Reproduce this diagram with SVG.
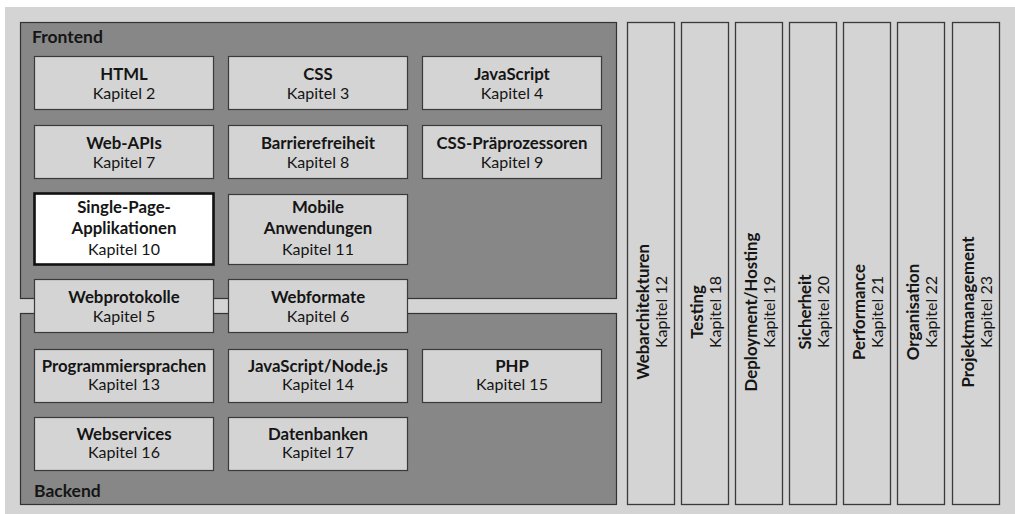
<svg xmlns="http://www.w3.org/2000/svg" width="1015" height="514" viewBox="0 0 1015 514">
  <style>
    .bg { fill: #d4d4d4; }
    .panel { fill: #878787; stroke: #333333; stroke-width: 1.2; }
    .box { fill: #d4d4d4; stroke: #3a3a3a; stroke-width: 1.2; }
    .hl { fill: #ffffff; stroke: #111111; stroke-width: 2.6; }
    .col { fill: #d4d4d4; stroke: #3a3a3a; stroke-width: 1.3; }
    text { font-family: Lato, "Open Sans", "Liberation Sans", sans-serif; font-size: 16px; fill: #151515; }
    .t { font-weight: bold; font-size: 16.8px; text-anchor: middle; }
    .k { text-anchor: middle; }
    .lbl { font-weight: bold; font-size: 17.5px; }
  </style>

  <!-- background -->
  <rect class="bg" x="5" y="7" width="1010" height="507"/>

  <!-- panels -->
  <g id="frontend">
    <rect class="panel" x="20.5" y="22.5" width="596" height="276"/>
    <text class="lbl" x="32" y="43">Frontend</text>
  </g>
  <g id="backend">
    <rect class="panel" x="20.5" y="313.5" width="596" height="191"/>
    <text class="lbl" x="34" y="497">Backend</text>
  </g>

  <!-- connectors (none drawn) -->
  <g id="connectors"></g>

  <!-- frontend chapters -->
  <g id="html"><rect class="box" x="34.5" y="56.5" width="179" height="53"/>
    <text class="t" x="124" y="80">HTML</text><text class="k" x="124" y="99">Kapitel 2</text></g>
  <g id="css"><rect class="box" x="228.5" y="56.5" width="179" height="53"/>
    <text class="t" x="318" y="80">CSS</text><text class="k" x="318" y="99">Kapitel 3</text></g>
  <g id="javascript"><rect class="box" x="422.5" y="56.5" width="179" height="53"/>
    <text class="t" x="512" y="80">JavaScript</text><text class="k" x="512" y="99">Kapitel 4</text></g>

  <g id="webapis"><rect class="box" x="34.5" y="125.5" width="179" height="53"/>
    <text class="t" x="124" y="149">Web-APIs</text><text class="k" x="124" y="168">Kapitel 7</text></g>
  <g id="barrierefreiheit"><rect class="box" x="228.5" y="125.5" width="179" height="53"/>
    <text class="t" x="318" y="149">Barrierefreiheit</text><text class="k" x="318" y="168">Kapitel 8</text></g>
  <g id="praeprozessoren"><rect class="box" x="422.5" y="125.5" width="179" height="53"/>
    <text class="t" x="512" y="149">CSS-Präprozessoren</text><text class="k" x="512" y="168">Kapitel 9</text></g>

  <g id="spa"><rect class="hl" x="34.5" y="193.5" width="179" height="71"/>
    <text class="t" x="124" y="213">Single-Page-</text>
    <text class="t" x="124" y="234">Applikationen</text>
    <text class="k" x="124" y="255">Kapitel 10</text></g>
  <g id="mobile"><rect class="box" x="228.5" y="194.5" width="179" height="70"/>
    <text class="t" x="318" y="213">Mobile</text>
    <text class="t" x="318" y="234">Anwendungen</text>
    <text class="k" x="318" y="255">Kapitel 11</text></g>

  <!-- shared chapters between frontend and backend -->
  <g id="webprotokolle"><rect class="box" x="34.5" y="279.5" width="179" height="53"/>
    <text class="t" x="124" y="303">Webprotokolle</text><text class="k" x="124" y="322">Kapitel 5</text></g>
  <g id="webformate"><rect class="box" x="228.5" y="279.5" width="179" height="53"/>
    <text class="t" x="318" y="303">Webformate</text><text class="k" x="318" y="322">Kapitel 6</text></g>

  <!-- backend chapters -->
  <g id="programmiersprachen"><rect class="box" x="34.5" y="349.5" width="179" height="53"/>
    <text class="t" x="124" y="372">Programmiersprachen</text><text class="k" x="124" y="390">Kapitel 13</text></g>
  <g id="nodejs"><rect class="box" x="228.5" y="349.5" width="179" height="53"/>
    <text class="t" x="318" y="372">JavaScript/Node.js</text><text class="k" x="318" y="390">Kapitel 14</text></g>
  <g id="php"><rect class="box" x="422.5" y="349.5" width="179" height="53"/>
    <text class="t" x="512" y="372">PHP</text><text class="k" x="512" y="390">Kapitel 15</text></g>

  <g id="webservices"><rect class="box" x="34.5" y="417.5" width="179" height="53"/>
    <text class="t" x="124" y="440">Webservices</text><text class="k" x="124" y="458">Kapitel 16</text></g>
  <g id="datenbanken"><rect class="box" x="228.5" y="417.5" width="179" height="53"/>
    <text class="t" x="318" y="440">Datenbanken</text><text class="k" x="318" y="458">Kapitel 17</text></g>

  <!-- cross-cutting chapters (vertical columns) -->
  <g id="webarchitekturen"><rect class="col" x="627.5" y="22.5" width="47" height="482"/>
    <g transform="translate(651 312) rotate(-90)"><text class="t" x="0" y="-2.5">Webarchitekturen</text><text class="k" x="0" y="16">Kapitel 12</text></g></g>
  <g id="testing"><rect class="col" x="681.5" y="22.5" width="47" height="482"/>
    <g transform="translate(705 312) rotate(-90)"><text class="t" x="0" y="-2.5">Testing</text><text class="k" x="0" y="16">Kapitel 18</text></g></g>
  <g id="deployment"><rect class="col" x="735.5" y="22.5" width="47" height="482"/>
    <g transform="translate(759 312) rotate(-90)"><text class="t" x="0" y="-2.5">Deployment/Hosting</text><text class="k" x="0" y="16">Kapitel 19</text></g></g>
  <g id="sicherheit"><rect class="col" x="789.5" y="22.5" width="47" height="482"/>
    <g transform="translate(813 312) rotate(-90)"><text class="t" x="0" y="-2.5">Sicherheit</text><text class="k" x="0" y="16">Kapitel 20</text></g></g>
  <g id="performance"><rect class="col" x="843.5" y="22.5" width="47" height="482"/>
    <g transform="translate(867 312) rotate(-90)"><text class="t" x="0" y="-2.5">Performance</text><text class="k" x="0" y="16">Kapitel 21</text></g></g>
  <g id="organisation"><rect class="col" x="897.5" y="22.5" width="47" height="482"/>
    <g transform="translate(921 312) rotate(-90)"><text class="t" x="0" y="-2.5">Organisation</text><text class="k" x="0" y="16">Kapitel 22</text></g></g>
  <g id="projektmanagement"><rect class="col" x="952.5" y="22.5" width="47" height="482"/>
    <g transform="translate(976 312) rotate(-90)"><text class="t" x="0" y="-2.5">Projektmanagement</text><text class="k" x="0" y="16">Kapitel 23</text></g></g>
</svg>
